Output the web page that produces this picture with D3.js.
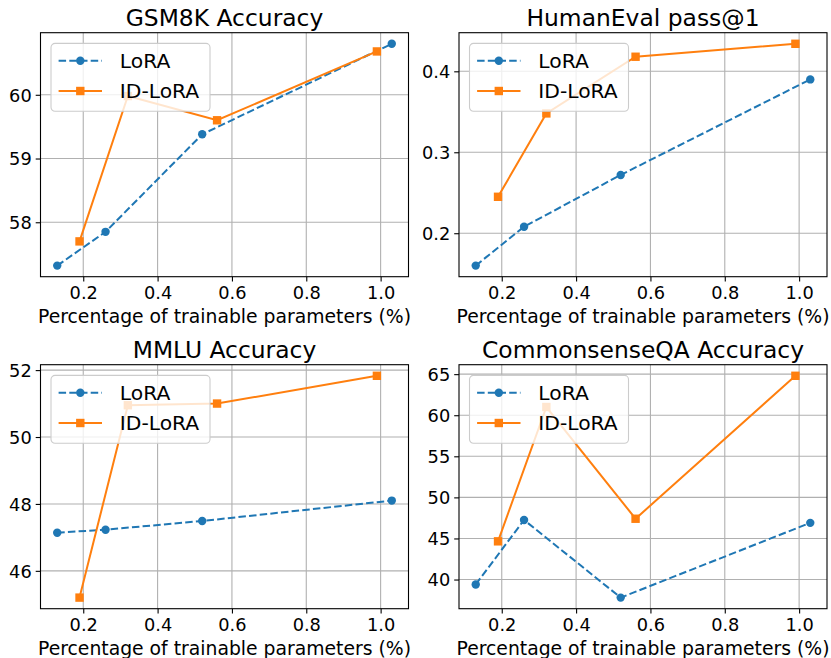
<!DOCTYPE html>
<html>
<head>
<meta charset="utf-8">
<script src="https://d3js.org/d3.v7.min.js"></script>
<style>
  body { margin: 0; background: #fff; }
  text { font-family: "DejaVu Sans", sans-serif; fill: #000; }
</style>
</head>
<body>
<script>
// x positions (% of trainable parameters)
const loraX = [0.13, 0.26, 0.52, 1.03];
const idLoraX = [0.19, 0.32, 0.56, 0.99];
const xTicks = [0.2, 0.4, 0.6, 0.8, 1.0];

const titles = ["GSM8K Accuracy", "HumanEval pass@1", "MMLU Accuracy", "CommonsenseQA Accuracy"];
const seriesNames = ["LoRA", "ID-LoRA"];

const gsmLora = [57.32, 57.85, 59.38, 60.80];
const gsmIdLora = [57.70, 59.98, 59.60, 60.68];
const gsmTicks = [58, 59, 60];

const heLora = [0.160, 0.208, 0.272, 0.390];
const heIdLora = [0.245, 0.348, 0.418, 0.434];
const heTicks = [0.2, 0.3, 0.4];

const mmluLora = [47.14, 47.23, 47.49, 48.10];
const mmluIdLora = [45.20, 50.95, 51.00, 51.83];
const mmluTicks = [46, 48, 50, 52];

const csqaLora = [39.4, 47.25, 37.8, 46.9];
const csqaIdLora = [44.65, 61.0, 47.4, 64.8];
const csqaTicks = [40, 45, 50, 55, 60, 65];

const blue = "#1f77b4", orange = "#ff7f0e";

let width = 831, height = 658;
let panelW = 368, panelH = 244;

let svg = d3.select("body").append("svg")
    .attr("width", width)
    .attr("height", height);

function padded(vals) {
    let lo = d3.min(vals), hi = d3.max(vals);
    let m = (hi - lo) * 0.05;
    return [lo - m, hi + m];
}

function drawPanel(left, top, title, lora, idLora, yTicks, yFmt) {
    let g = svg.append("g").attr("transform", `translate(${left},${top})`);

    let x = d3.scaleLinear()
        .domain(padded(loraX.concat(idLoraX)))
        .range([0, panelW]);
    let y = d3.scaleLinear()
        .domain(padded(lora.concat(idLora)))
        .range([panelH, 0]);

    // grid
    g.append("g").selectAll("line.gx")
        .data(xTicks).join("line")
            .attr("x1", d => x(d)).attr("x2", d => x(d))
            .attr("y1", 0).attr("y2", panelH)
            .style("stroke", "#b0b0b0").style("stroke-width", 1.1);
    g.append("g").selectAll("line.gy")
        .data(yTicks).join("line")
            .attr("x1", 0).attr("x2", panelW)
            .attr("y1", d => y(d)).attr("y2", d => y(d))
            .style("stroke", "#b0b0b0").style("stroke-width", 1.1);

    let line = d3.line().x(d => x(d[0])).y(d => y(d[1]));

    // LoRA
    let lp = d3.zip(loraX, lora);
    g.append("path").attr("d", line(lp))
        .style("fill", "none").style("stroke", blue)
        .style("stroke-width", 2).style("stroke-dasharray", "7.5,3.2");
    g.selectAll("circle.lora").data(lp).join("circle")
        .attr("cx", d => x(d[0])).attr("cy", d => y(d[1])).attr("r", 4.2)
        .style("fill", blue);

    // ID-LoRA
    let ip = d3.zip(idLoraX, idLora);
    g.append("path").attr("d", line(ip))
        .style("fill", "none").style("stroke", orange).style("stroke-width", 2);
    g.selectAll("rect.idlora").data(ip).join("rect")
        .attr("x", d => x(d[0]) - 4.2).attr("y", d => y(d[1]) - 4.2)
        .attr("width", 8.4).attr("height", 8.4)
        .style("fill", orange);

    // axes
    let xAxis = g.append("g").attr("transform", `translate(0,${panelH})`)
        .call(d3.axisBottom(x).tickValues(xTicks).tickFormat(d3.format(".1f"))
            .tickSize(4.8).tickPadding(4.5));
    let yAxis = g.append("g")
        .call(d3.axisLeft(y).tickValues(yTicks).tickFormat(yFmt)
            .tickSize(4.8).tickPadding(4));
    [xAxis, yAxis].forEach(a => {
        a.select(".domain").remove();
        a.selectAll("line").style("stroke", "#000").style("stroke-width", 1.1);
        a.selectAll("text").style("font-size", "17.8px")
            .style("font-family", "'DejaVu Sans', sans-serif");
    });
    yAxis.selectAll("text").attr("dy", "0.36em");

    g.append("rect").attr("width", panelW).attr("height", panelH)
        .style("fill", "none").style("stroke", "#000").style("stroke-width", 1.1);

    // title and label
    g.append("text").attr("x", panelW / 2).attr("y", -6.7)
        .attr("text-anchor", "middle").style("font-size", "23.4px").text(title);
    g.append("text").attr("x", panelW / 2).attr("y", panelH + 46.6)
        .attr("text-anchor", "middle").style("font-size", "18.8px")
        .text("Percentage of trainable parameters (%)");

    // legend
    let lg = g.append("g").attr("transform", "translate(10.5,10.7)");
    lg.append("rect").attr("width", 159).attr("height", 67.8)
        .attr("rx", 4).attr("ry", 4)
        .style("fill", "#fff").style("fill-opacity", 0.8)
        .style("stroke", "#cccccc").style("stroke-width", 1.1);
    seriesNames.forEach((name, i) => {
        let yy = 17.3 + i * 30.3;
        let col = i === 0 ? blue : orange;
        lg.append("line").attr("x1", 7.6).attr("x2", 51).attr("y1", yy).attr("y2", yy)
            .style("stroke", col).style("stroke-width", 2)
            .style("stroke-dasharray", i === 0 ? "7.5,3.2" : null);
        if (i === 0) {
            lg.append("circle").attr("cx", 29.3).attr("cy", yy).attr("r", 4.2).style("fill", col);
        } else {
            lg.append("rect").attr("x", 25.1).attr("y", yy - 4.2)
                .attr("width", 8.4).attr("height", 8.4).style("fill", col);
        }
        lg.append("text").attr("x", 68.8).attr("y", yy).attr("dy", "0.36em")
            .style("font-size", "20.3px").text(name);
    });
}

let intFmt = d3.format("d");
drawPanel(40.5, 32.7, titles[0], gsmLora, gsmIdLora, gsmTicks, intFmt);
drawPanel(459, 32.7, titles[1], heLora, heIdLora, heTicks, d3.format(".1f"));
drawPanel(40.5, 364.7, titles[2], mmluLora, mmluIdLora, mmluTicks, intFmt);
drawPanel(459, 364.7, titles[3], csqaLora, csqaIdLora, csqaTicks, intFmt);
</script>
</body>
</html>
